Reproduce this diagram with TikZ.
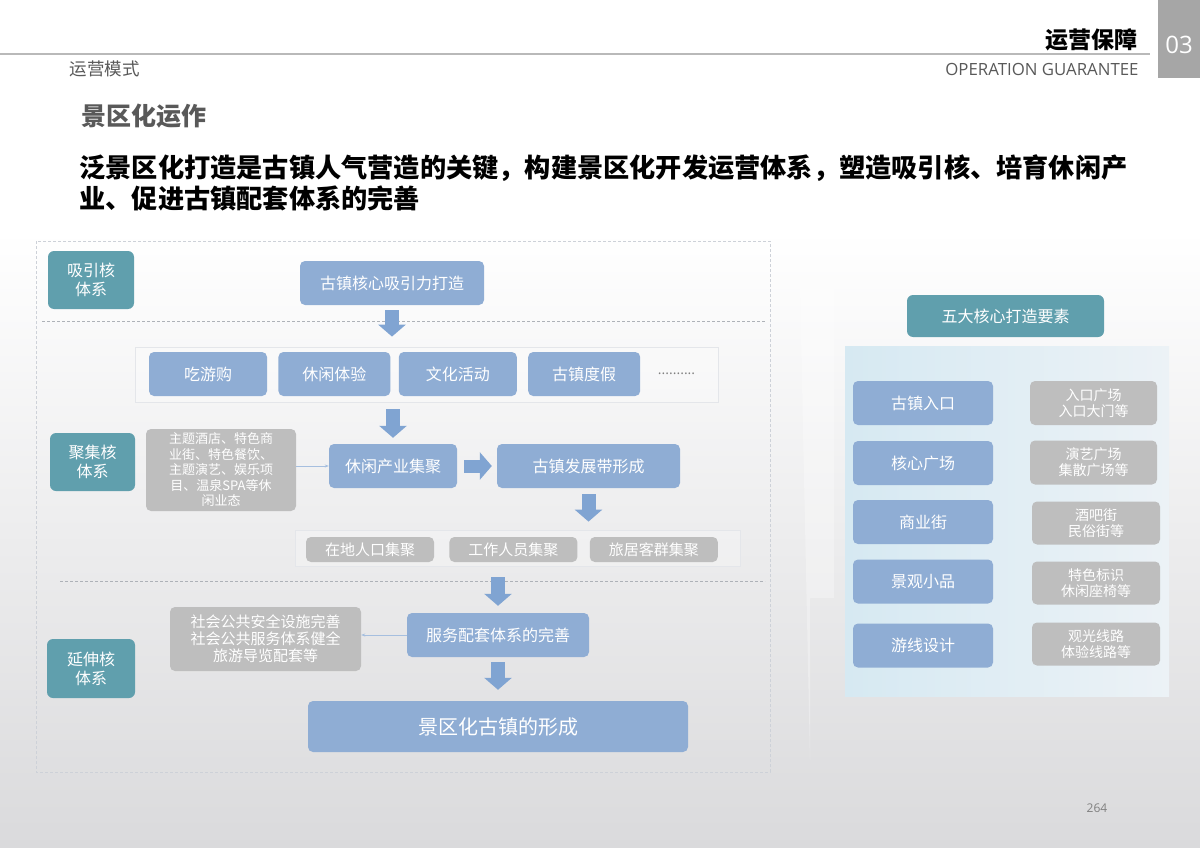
\documentclass[tikz,border=0pt]{standalone}
\usepackage{fontspec}
\setmainfont{Noto Sans CJK SC}
\newfontfamily\latinsans{Open Sans}
\usetikzlibrary{arrows.meta,positioning,calc}

\definecolor{boxblue}{RGB}{143,173,212}
\definecolor{arrowblue}{RGB}{128,164,210}
\definecolor{boxteal}{RGB}{96,159,173}
\definecolor{boxgray}{RGB}{190,190,190}
\definecolor{dashgray}{RGB}{205,209,216}
\definecolor{bggray}{RGB}{218,218,220}
\definecolor{textgray}{RGB}{89,89,89}

\begin{document}
\begin{tikzpicture}[x=1pt,y=-1pt,
  bluebox/.style={rectangle, rounded corners=5pt, fill=boxblue, text=white,
                  align=center, inner sep=0pt, font=\fontsize{16}{19}\selectfont},
  tealbox/.style={rectangle, rounded corners=6pt, fill=boxteal, text=white,
                  align=center, inner sep=0pt, font=\fontsize{16}{19}\selectfont},
  graybox/.style={rectangle, rounded corners=5pt, fill=boxgray, text=white,
                  align=center, inner sep=0pt, font=\fontsize{14}{16}\selectfont},
  frame/.style={rectangle, draw=dashgray!55, fill=white, fill opacity=0.25, text opacity=1,
                line width=0.8pt, inner sep=0pt},
  fatarrow/.style={draw=arrowblue, line width=14pt,
                   -{Triangle[width=27pt,length=12pt]}},
  thinarrow/.style={draw=arrowblue!70, line width=0.6pt, -{Stealth[length=4pt]}},
  >=Stealth
]
  \useasboundingbox (0,0) rectangle (1200,848);
  % background
  \fill[white] (0,0) rectangle (1200,232);
  \shade[top color=white, bottom color=bggray] (0,230) rectangle (1200,848);

  % header
  \draw[gray!55, line width=1.2pt] (0,54) -- (1150,54);
  \fill[gray!70] (1158,0) rectangle (1200,78);
  \node[text=white, font=\fontsize{24}{26}\selectfont\latinsans] (tabno) at (1179,45) {03};
  \node[anchor=east, font=\bfseries\fontsize{23}{26}\selectfont] (title) at (1141,40) {运营保障};
  \node[anchor=east, text=textgray, font=\fontsize{16.8}{19}\selectfont\latinsans] (titleen) at (1142,69) {OPERATION GUARANTEE};
  \node[anchor=west, text=textgray, font=\fontsize{17.5}{20}\selectfont] (section) at (66,69) {运营模式};
  \node[anchor=west, text=textgray, font=\bfseries\fontsize{25}{28}\selectfont] (subtitle) at (78,116) {景区化运作};
  \node[anchor=west, align=left, font=\bfseries\fontsize{26.2}{31}\selectfont] (headline) at (76,183)
    {泛景区化打造是古镇人气营造的关键，构建景区化开发运营体系，塑造吸引核、培育休闲产\\业、促进古镇配套体系的完善};

  % left panel
  \draw[dashgray, line width=1pt, dash pattern=on 3pt off 2pt] (36,241) rectangle (770,772);
  \draw[dashgray!85!black, line width=0.8pt, dash pattern=on 3pt off 2pt] (42,321) -- (765,321);
  \draw[dashgray!85!black, line width=0.8pt, dash pattern=on 3pt off 2pt] (60,581) -- (765,581);

  \node[tealbox, minimum width=86, minimum height=58] (attract) at (91,280) {吸引核\\体系};
  \node[tealbox, minimum width=85, minimum height=58] (gather) at (92.5,462) {聚集核\\体系};
  \node[tealbox, minimum width=88, minimum height=59] (extend) at (91,668.5) {延伸核\\体系};

  \node[bluebox, minimum width=184, minimum height=44] (core) at (392,283) {古镇核心吸引力打造};

  \node[frame, minimum width=583, minimum height=55] (rowframe) at (426.5,374.5) {};
  \node[bluebox, minimum width=118, minimum height=44] (eat) at (208,374) {吃游购};
  \node[bluebox, minimum width=112, minimum height=44, right=11pt of eat] (leisure) {休闲体验};
  \node[bluebox, minimum width=118, minimum height=44, right=8pt of leisure] (culture) {文化活动};
  \node[bluebox, minimum width=112, minimum height=44, right=11pt of culture] (resort) {古镇度假};
  \node[text=gray, font=\fontsize{14}{14}\selectfont\latinsans, right=14pt of resort] (more) {..........};

  \node[graybox, minimum width=150, minimum height=82, font=\fontsize{13}{15.5}\selectfont] (business) at (221,470)
    {主题酒店、特色商\\业街、特色餐饮、\\主题演艺、娱乐项\\目、温泉SPA等休\\闲业态};
  \node[bluebox, minimum width=128, minimum height=44] (industry) at (393,466) {休闲产业集聚};
  \node[bluebox, minimum width=183, minimum height=44] (belt) at (588.5,466) {古镇发展带形成};

  \node[frame, minimum width=445, minimum height=36] (gatherframe) at (517.5,548) {};
  \node[graybox, minimum width=128, minimum height=25, font=\fontsize{15}{17}\selectfont] (local) at (370,549.5) {在地人口集聚};
  \node[graybox, minimum width=128, minimum height=25, font=\fontsize{15}{17}\selectfont, right=15pt of local] (worker) {工作人员集聚};
  \node[graybox, minimum width=128, minimum height=25, font=\fontsize{15}{17}\selectfont, right=12pt of worker] (sojourn) {旅居客群集聚};

  \node[bluebox, minimum width=182, minimum height=44] (service) at (498,635) {服务配套体系的完善};
  \node[graybox, minimum width=191, minimum height=64, font=\fontsize{15}{17}\selectfont] (welfare) at (265.5,639)
    {社会公共安全设施完善\\社会公共服务体系健全\\旅游导览配套等};
  \node[bluebox, minimum width=380, minimum height=51, font=\fontsize{20}{23}\selectfont] (final) at (498,726.5) {景区化古镇的形成};

  % connectors
  \draw[fatarrow, shorten <=5pt, shorten >=10pt] (core.south) -- (core.south |- rowframe.north);
  \draw[fatarrow, shorten <=7pt, shorten >=6pt] (industry.north |- rowframe.south) -- (industry.north);
  \draw[thinarrow] (business.east |- industry.west) -- (industry.west);
  \draw[fatarrow, line width=13pt, shorten <=7pt, shorten >=5pt] (industry.east) -- (belt.west);
  \draw[fatarrow, shorten <=6pt, shorten >=8pt] (belt.south) -- (belt.south |- gatherframe.north);
  \draw[fatarrow, shorten <=11pt, shorten >=7pt] (service.north |- gatherframe.south) -- (service.north);
  \draw[thinarrow] (service.west) -- (welfare.east |- service.west);
  \draw[fatarrow, shorten <=5pt, shorten >=11pt] (service.south) -- (final.north);

  % wedge between the panels
  \fill[white, opacity=0.3] (800,287) -- (834,287) -- (834,598) -- (810,598) -- (810,760) -- cycle;

  % right panel
  \node[tealbox, minimum width=197, minimum height=42] (five) at (1005.5,316) {五大核心打造要素};
  \shade[left color={rgb,255:red,214;green,233;blue,242}, right color={rgb,255:red,236;green,242;blue,246}]
    (845,346) rectangle (1169,696);

  \node[bluebox, minimum width=140, minimum height=44] (entrance) at (923,403) {古镇入口};
  \node[bluebox, minimum width=140, minimum height=44] (plaza) at (923,463) {核心广场};
  \node[bluebox, minimum width=140, minimum height=44] (street) at (923,522) {商业街};
  \node[bluebox, minimum width=140, minimum height=44] (sketch) at (923,581.5) {景观小品};
  \node[bluebox, minimum width=140, minimum height=44] (route) at (923,645.5) {游线设计};

  \node[graybox, minimum width=127, minimum height=44] (entrancex) at (1093.5,403) {入口广场\\入口大门等};
  \node[graybox, minimum width=127, minimum height=44] (plazax) at (1093.5,462.5) {演艺广场\\集散广场等};
  \node[graybox, minimum width=128, minimum height=43] (streetx) at (1096,523) {酒吧街\\民俗街等};
  \node[graybox, minimum width=128, minimum height=43] (sketchx) at (1096,583) {特色标识\\休闲座椅等};
  \node[graybox, minimum width=128, minimum height=43] (routex) at (1096,644) {观光线路\\体验线路等};

  \node[text=gray, font=\fontsize{12}{14}\selectfont\latinsans] (pageno) at (1097,808) {264};
\end{tikzpicture}
\end{document}
